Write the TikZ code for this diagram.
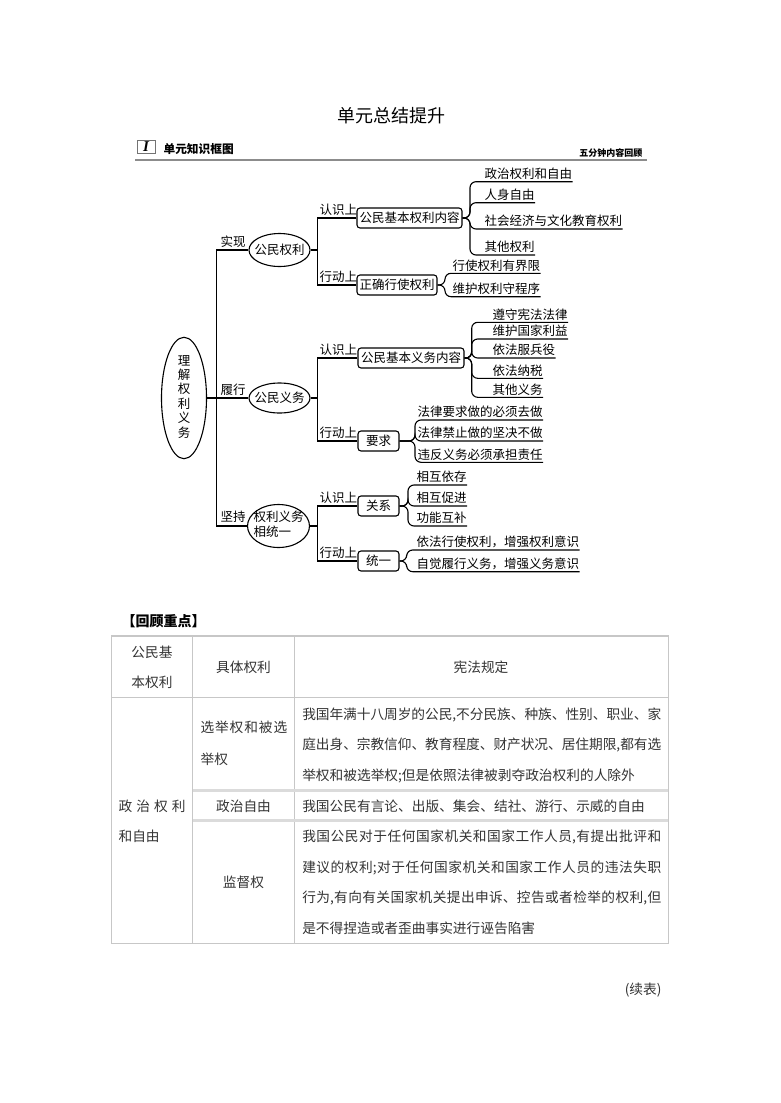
\documentclass[tikz,border=0pt]{standalone}
\usepackage{fontspec}
\setmainfont{Noto Sans CJK SC}
\newfontfamily\serifb{Liberation Serif}
\usetikzlibrary{shapes.geometric}
\XeTeXlinebreaklocale "zh"
\XeTeXlinebreakskip=0pt plus 2pt minus 0.3pt
\newcommand{\fsz}[1]{\fontsize{#1}{#1}\selectfont}
\newcommand{\jline}[1]{\parbox{359pt}{\parfillskip=0pt #1}}

\begin{document}
\begin{tikzpicture}[x=1pt, y=-1pt, line width=1.1pt,
    lbl/.style={font=\fsz{12.5}, inner sep=0pt, anchor=south west},
    kbox/.style={draw, rounded corners=3pt, font=\fsz{12.5}, inner xsep=2.5pt, inner ysep=0pt, minimum height=20pt},
    kell/.style={draw, ellipse, font=\fsz{12.5}, inner sep=0pt},
    item/.style={font=\fsz{12.5}, inner xsep=0pt, inner ysep=1.5pt, anchor=south west},
    curl/.style={rounded corners=6pt},
    cell/.style={font=\fsz{13.7}, text=black!80, inner sep=0pt},
    grid/.style={draw=black!22, line width=1.2pt}]
    \useasboundingbox (0,0) rectangle (780,1103);

    \node[font=\fsz{18}] (ttl) at (391,115.5) {单元总结提升};
    \node[draw=black!55, line width=0.7pt, minimum width=18pt, minimum height=13pt, inner sep=0pt, font=\serifb\bfseries\itshape\fsz{15}] (ico) at (146,146.5) {I};
    \node[font=\bfseries\fsz{11.7}, anchor=west, inner sep=0pt] (hdl) at (163,149) {单元知识框图};
    \node[font=\bfseries\fsz{9}, anchor=east, inner sep=0pt] (hdr) at (643,153) {五分钟内容回顾};
    \draw[black!45, line width=1.6pt] (135,160) -- (647,160);

    \node[kell, minimum width=45pt, minimum height=113pt, font=\fontsize{12.5}{13}\selectfont] (rt) at (184,398) {\makebox[0pt]{\begin{tabular}{@{}c@{}}理\\解\\权\\利\\义\\务\end{tabular}}};
    \node[kell, minimum width=61pt, minimum height=33pt] (r1) at (279.5,250) {\makebox[0pt]{公民权利}};
    \node[kell, minimum width=61pt, minimum height=30pt] (r2) at (279.5,398) {\makebox[0pt]{公民义务}};
    \node[kell, minimum width=62pt, minimum height=43pt, font=\fontsize{12.5}{13.5}\selectfont] (r3) at (278.5,526) {\makebox[0pt]{\begin{tabular}{@{}l@{}}权利义务\\相统一\end{tabular}}};

    \node[kbox, minimum width=105pt] (a1) at (409.5,218) {公民基本权利内容};
    \node[kbox, minimum width=80pt] (a2) at (397,285) {正确行使权利};
    \node[kbox, minimum width=106pt] (b1) at (411,358) {公民基本义务内容};
    \node[kbox, minimum width=41pt] (b2) at (378.5,441) {要求};
    \node[kbox, minimum width=41pt] (c1) at (378.5,506) {关系};
    \node[kbox, minimum width=41pt] (c2) at (378.5,561) {统一};

    \node[lbl] (l1) at (220,248.5) {实现};
    \node[lbl] (l2) at (220,396) {履行};
    \node[lbl] (l3) at (220,523.5) {坚持};
    \node[lbl] (la1) at (319,216) {认识上};
    \node[lbl] (la2) at (319,283.5) {行动上};
    \node[lbl] (lb1) at (319,356) {认识上};
    \node[lbl] (lb2) at (319,439.5) {行动上};
    \node[lbl] (lc1) at (319,504) {认识上};
    \node[lbl] (lc2) at (319,559) {行动上};

    \coordinate (t) at (216.7,398);
    \coordinate (s1) at (317.7,250);
    \coordinate (s2) at (317.7,398);
    \coordinate (s3) at (317.7,526);
    \draw (rt) -- (r2);
    \draw (t) |- (r1);
    \draw (t) |- (r3);
    \draw (r1) -- (s1) |- (a1);
    \draw (s1) |- (a2);
    \draw (r2) -- (s2) |- (b1);
    \draw (s2) |- (b2);
    \draw (r3) -- (s3) |- (c1);
    \draw (s3) |- (c2);

    \node[item] (a11) at (484,181.7) {政治权利和自由};
    \node[item] (a12) at (484,202.7) {人身自由};
    \node[item] (a13) at (484,229) {社会经济与文化教育权利};
    \node[item] (a14) at (484,255) {其他权利};
    \coordinate (ka) at (470,218);
    \foreach \n in {a11,a12,a13,a14}
        \draw[curl] (a1) -- (ka) |- (\n.south east);

    \node[item] (a21) at (452,273.3) {行使权利有界限};
    \node[item] (a22) at (452,296.7) {维护权利守程序};
    \coordinate (kb) at (445,285);
    \foreach \n in {a21,a22}
        \draw[curl] (a2) -- (kb) |- (\n.south east);

    \node[item] (b11) at (492,322.3) {遵守宪法法律};
    \node[item] (b12) at (492,339) {维护国家利益};
    \node[item] (b13) at (492,358) {依法服兵役};
    \node[item] (b14) at (492,378.3) {依法纳税};
    \node[item] (b15) at (492,397.3) {其他义务};
    \coordinate (kc) at (471.7,358);
    \foreach \n in {b11,b12,b13,b14,b15}
        \draw[curl] (b1) -- (kc) |- (\n.south east);

    \node[item] (b21) at (417,420) {法律要求做的必须去做};
    \node[item] (b22) at (417,441) {法律禁止做的坚决不做};
    \node[item] (b23) at (417,462.3) {违反义务必须承担责任};
    \coordinate (kd) at (415,441);
    \foreach \n in {b21,b22,b23}
        \draw[curl] (b2) -- (kd) |- (\n.south east);

    \node[item] (c11) at (416,485) {相互依存};
    \node[item] (c12) at (416,506) {相互促进};
    \node[item] (c13) at (416,526) {功能互补};
    \coordinate (ke) at (408,506);
    \foreach \n in {c11,c12,c13}
        \draw[curl] (c1) -- (ke) |- (\n.south east);

    \node[item] (c21) at (416,550) {依法行使权利，增强权利意识};
    \node[item] (c22) at (416,571.7) {自觉履行义务，增强义务意识};
    \coordinate (kf) at (406.7,561);
    \foreach \n in {c21,c22}
        \draw[curl] (c2) -- (kf) |- (\n.south east);

    \node[font=\bfseries\fsz{14}, anchor=west, inner sep=0pt] (hd2) at (121,621) {【回顾重点】};
    \draw[grid] (111.7,636) rectangle (668.3,943.3);
    \draw[grid] (111.7,697.3) -- (668.3,697.3);
    \draw[grid] (192.7,636) -- (192.7,943.3);
    \draw[grid] (294.3,636) -- (294.3,943.3);
    \draw[grid, draw=black!14, line width=2.6pt] (192.7,790.7) -- (668.3,790.7);
    \draw[grid, draw=black!14, line width=2.6pt] (192.7,820.3) -- (668.3,820.3);

    \node[cell] (h1a) at (152,652.5) {公民基};
    \node[cell] (h1b) at (152,682.5) {本权利};
    \node[cell] (h2) at (243.5,667.5) {具体权利};
    \node[cell] (h3) at (481,667.5) {宪法规定};
    \node[cell, anchor=west] (p1) at (118,806) {\makebox[67pt][s]{政\hfill 治\hfill 权\hfill 利}};
    \node[cell, anchor=west] (p2) at (118,836) {和自由};
    \node[cell, anchor=west] (q1a) at (200,727) {\makebox[86.7pt][s]{选\hfill 举\hfill 权\hfill 和\hfill 被\hfill 选}};
    \node[cell, anchor=west] (q1b) at (200,759) {举权};
    \node[cell] (q2) at (243.5,806) {政治自由};
    \node[cell] (q3) at (243.5,882) {监督权};
    \node[cell, anchor=west] (d11) at (301.7,714.5) {\jline{我国年满十八周岁的公民,不分民族、种族、性别、职业、家}};
    \node[cell, anchor=west] (d12) at (301.7,745) {\jline{庭出身、宗教信仰、教育程度、财产状况、居住期限,都有选}};
    \node[cell, anchor=west] (d13) at (301.7,775.5) {举权和被选举权;但是依照法律被剥夺政治权利的人除外};
    \node[cell, anchor=west] (d21) at (301.7,806) {我国公民有言论、出版、集会、结社、游行、示威的自由};
    \node[cell, anchor=west] (d31) at (301.7,837) {\jline{我国公民对于任何国家机关和国家工作人员,有提出批评和}};
    \node[cell, anchor=west] (d32) at (301.7,867.5) {\jline{建议的权利;对于任何国家机关和国家工作人员的违法失职}};
    \node[cell, anchor=west] (d33) at (301.7,898) {\jline{行为,有向有关国家机关提出申诉、控告或者检举的权利,但}};
    \node[cell, anchor=west] (d34) at (301.7,928) {是不得捏造或者歪曲事实进行诬告陷害};
    \node[cell, anchor=east] (xb) at (662,990) {(续表)};
\end{tikzpicture}
\end{document}
